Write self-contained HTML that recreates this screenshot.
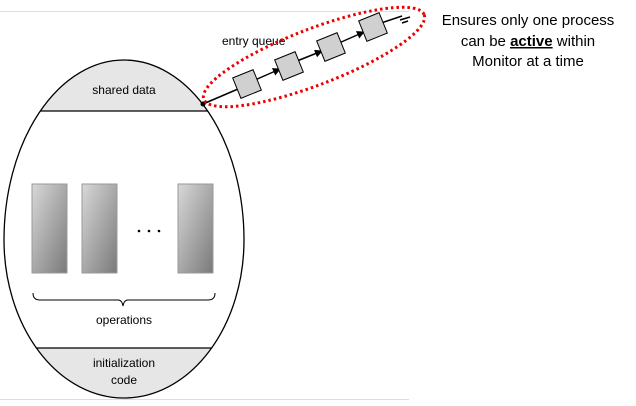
<!DOCTYPE html>
<html><head><style>
body{margin:0;background:#fff;width:636px;height:401px;overflow:hidden;font-family:"Liberation Sans",sans-serif;}
</style></head><body>
<svg width="636" height="401" viewBox="0 0 636 401" xmlns="http://www.w3.org/2000/svg" font-family="Liberation Sans, sans-serif">
<defs>
<linearGradient id="g" x1="0" y1="0" x2="1" y2="1">
<stop offset="0" stop-color="#d8d8d8"/><stop offset="1" stop-color="#7a7a7a"/></linearGradient>
<clipPath id="ec"><path d="M4,240 A120,180 0 0 1 244,240 A120,158 0 0 1 4,240 Z"/></clipPath>
<marker id="a" markerWidth="8" markerHeight="8" refX="7" refY="4" orient="auto" markerUnits="userSpaceOnUse"><path d="M0,0 L8,4 L0,8z" fill="#000"/></marker>
</defs>
<line x1="0" y1="11.5" x2="409" y2="11.5" stroke="#ddd"/>
<line x1="0" y1="399.5" x2="409" y2="399.5" stroke="#ddd"/>
<g clip-path="url(#ec)">
<rect x="0" y="40" width="260" height="71" fill="#e6e6e6"/>
<rect x="0" y="348" width="260" height="60" fill="#e6e6e6"/>
<line x1="0" y1="111" x2="260" y2="111" stroke="#000" stroke-width="1.2"/>
<line x1="0" y1="348" x2="260" y2="348" stroke="#000" stroke-width="1.2"/>
</g>
<path d="M4,240 A120,180 0 0 1 244,240 A120,158 0 0 1 4,240 Z" fill="none" stroke="#000" stroke-width="1.3"/>
<text x="124" y="94" font-size="12" text-anchor="middle">shared data</text>
<rect x="32" y="184" width="35" height="89" fill="url(#g)" stroke="#999"/>
<rect x="82" y="184" width="35" height="89" fill="url(#g)" stroke="#999"/>
<rect x="178" y="184" width="35" height="89" fill="url(#g)" stroke="#999"/>
<circle cx="139" cy="231" r="1.3"/><circle cx="149" cy="231" r="1.3"/><circle cx="159" cy="231" r="1.3"/>
<path d="M33,293 Q33,300 40,300 L118,300 Q122,300 123,306 Q124,300 128,300 L208,300 Q215,300 215,293" fill="none" stroke="#000"/>
<text x="124" y="324" font-size="12" text-anchor="middle">operations</text>
<text x="124" y="367" font-size="12" text-anchor="middle">initialization</text>
<text x="124" y="384" font-size="12" text-anchor="middle">code</text>
<text x="222" y="45" font-size="12">entry queue</text>
<line x1="203" y1="104" x2="238" y2="89" stroke="#000" stroke-width="1.5"/>
<g stroke="#000" stroke-width="1.5">
<line x1="255" y1="80" x2="280" y2="69" marker-end="url(#a)"/>
<line x1="297" y1="61" x2="322" y2="51" marker-end="url(#a)"/>
<line x1="339" y1="43" x2="364" y2="32" marker-end="url(#a)"/>
<line x1="381" y1="23" x2="402" y2="16"/>
<line x1="400" y1="20" x2="410" y2="17"/><line x1="402" y1="23" x2="408" y2="21"/>
</g>
<g fill="#d0d0d0" stroke="#000" stroke-width="1">
<rect x="-11" y="-11" width="22" height="22" transform="translate(247,84) rotate(-22)"/>
<rect x="-11" y="-11" width="22" height="22" transform="translate(289,66) rotate(-22)"/>
<rect x="-11" y="-11" width="22" height="22" transform="translate(331,47) rotate(-22)"/>
<rect x="-11" y="-11" width="22" height="22" transform="translate(373,27) rotate(-22)"/>
</g>
<circle cx="203" cy="104" r="2.5"/>
<ellipse cx="314" cy="57" rx="118" ry="28" transform="rotate(-21 314 57)" fill="none" stroke="#e00" stroke-width="3" stroke-dasharray="2.5 3"/>
<g font-size="15" text-anchor="middle">
<text x="528" y="25">Ensures only one process</text>
<text x="528" y="46">can be <tspan font-weight="bold" text-decoration="underline">active</tspan> within</text>
<text x="528" y="66">Monitor at a time</text>
</g>
</svg>
</body></html>
